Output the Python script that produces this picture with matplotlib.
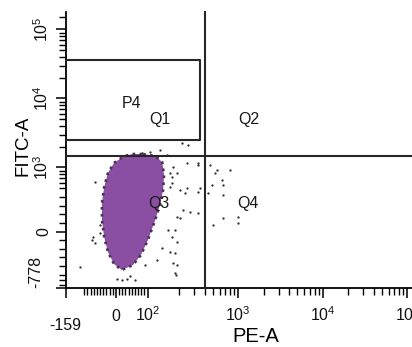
import numpy as np
import matplotlib
matplotlib.use("Agg")
import matplotlib.pyplot as plt

plt.rcParams['font.family'] = ['Liberation Sans', 'DejaVu Sans']
plt.rcParams['mathtext.fontset'] = 'custom'
plt.rcParams['mathtext.rm'] = 'Liberation Sans'
plt.rcParams['mathtext.it'] = 'Liberation Sans:italic'

# gates (PE-A / FITC-A values)
quad_x = 400
quad_y = 1450
p4_x = [-159, 350]
p4_y = [2500, 36000]

# outline of the dense population
blob_x = [86, 124, 146, 152, 149, 139, 124, 101, 79, 54, 19, -6, -25, -37, -44, -44, -37, -25, -6, 26, 54]
blob_y = [1567, 1466, 1200, 778, 479, 306, 133, -98, -272, -387, -445, -376, -237, -64, 133, 329, 521, 832, 1161, 1466, 1567]

# scattered events
dots_x = [216, 254, 247, 333, 204, 247, 234, 333, 352, 438, 530, 560, 641, 659, 797, 659, 488, 502,
          659, 992, 992, 333, 268, 222, 193, 204, 187, 193, 187, 193, 187, 177, 177, 171, -66, -72,
          -113, 180, 190, 19, 35, 4, 45, 60, -75, -50, -66, 165, 177, 146, 171, 130, 92, 82, 108,
          139, 161, 180, 193, 171, -50, 333, 462]
dots_y = [2262, 2116, 1161, 1161, 480, 503, 445, 456, 503, 445, 832, 919, 658, 557, 919, 422, 557, 75,
          156, 168, 98, 214, 225, 248, 168, 156, 17, -121, -248, -387, -480, 595, 728, 832, 616, -64,
          -410, -364, -503, -595, -584, -584, -526, -595, -98, 75, -133, 17, -64, -191, -237, -329, -387,
          1621, 1676, 1791, 1516, 1016, 832, 521, -17, 1086, 1086]

x_ticks = [-159, 0, 100, 1000, 10000, 100000]
x_labels = ['-159', '0', r'$10^{2}$', r'$10^{3}$', r'$10^{4}$', r'$10^{5}$']
y_ticks = [-778, 0, 1000, 10000, 100000]
y_labels = ['-778', '0', r'$10^{3}$', r'$10^{4}$', r'$10^{5}$']

quad_names = ['P4', 'Q1', 'Q2', 'Q3', 'Q4']
quad_lx = [48, 139, 1338, 136, 1303]
quad_ly = [8590, 5036, 5036, 329, 329]

fig = plt.figure(figsize=(4.12, 3.47), dpi=100)
ax = fig.add_axes([0.159, 0.170, 0.841, 0.794])
ax.set_xscale('symlog', linthresh=200, linscale=0.675)
ax.set_yscale('symlog', linthresh=500, linscale=0.564)
ax.set_xlim(-159, 113500)
ax.set_ylim(-778, 176000)

purple = '#8a4fa3'
ax.fill(blob_x, blob_y, color=purple, zorder=2, lw=0)
ax.plot(blob_x + blob_x[:1], blob_y + blob_y[:1], color='#4a3352', lw=1.9, ls=':', zorder=3)
ax.scatter(dots_x, dots_y, s=2.8, color='#333333', lw=0, zorder=3)

gate_kw = dict(color='#262626', lw=1.5, zorder=4, clip_on=False)
ax.axvline(quad_x, **gate_kw)
ax.axhline(quad_y, **gate_kw)
ax.plot([p4_x[0], p4_x[1], p4_x[1], p4_x[0]], [p4_y[1], p4_y[1], p4_y[0], p4_y[0]], **gate_kw)

for name, lx, ly in zip(quad_names, quad_lx, quad_ly):
    ax.text(lx, ly, name, fontsize=11.5, ha='center', va='center', color='#1a1a1a', zorder=5)

# axes / ticks
for side in ['top', 'right']:
    ax.spines[side].set_visible(False)
for side in ['left', 'bottom']:
    ax.spines[side].set_linewidth(1.3)

ax.set_xticks(x_ticks)
ax.set_xticklabels(x_labels)
ax.set_yticks(y_ticks)
ax.set_yticklabels(y_labels, rotation=90, va='center')

x_minor = [v for v in range(-100, 100, 10) if v != 0]
x_minor += [m * 10 ** k for k in (2, 3, 4) for m in range(2, 10)]
y_minor = [v for v in range(-700, 1000, 100) if v != 0]
y_minor += [m * 10 ** k for k in (3, 4) for m in range(2, 10)]
y_minor += [1.5e5]
ax.set_xticks(x_minor, minor=True)
ax.set_yticks(y_minor, minor=True)

ax.tick_params(which='major', length=7, width=1.2, direction='out', labelsize=11.5, colors='#111111')
ax.tick_params(which='minor', length=5, width=1.0, direction='out')
ax.tick_params(axis='x', which='major', pad=17)
for lab in ax.get_xticklabels():
    lab.set_va('baseline')

xt = ax.xaxis.get_major_ticks()
xt[0].tick1line.set_markersize(11)
xt[0].set_pad(23)
yt = ax.yaxis.get_major_ticks()
yt[0].tick1line.set_markersize(9)
yt[0].set_pad(9)
ax.get_yticklabels()[0].set_va('bottom')

ax.set_xlabel('PE-A', fontsize=14.5)
ax.set_ylabel('FITC-A', fontsize=13.5)
ax.xaxis.set_label_coords(0.55, -0.14)
ax.yaxis.set_label_coords(-0.097, 0.516)

fig.savefig('out.png', dpi=100)
